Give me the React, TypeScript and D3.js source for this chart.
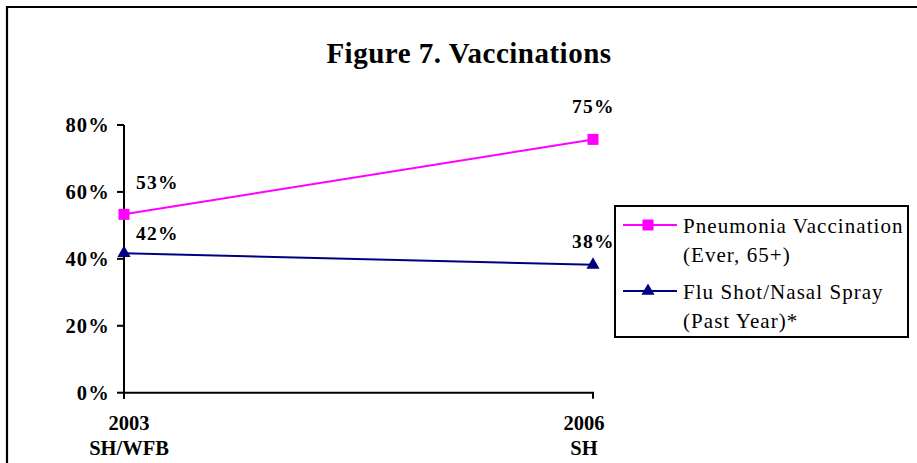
import React from "react";
import * as d3 from "d3";

const categories = ["2003", "2006"];
const categorySubLabels = ["SH/WFB", "SH"];
const pneumonia = [53.3, 75.7];
const pneumoniaLabels = ["53%", "75%"];
const flu = [41.7, 38.2];
const fluLabels = ["42%", "38%"];
const yTicks = [0, 20, 40, 60, 80];
const seriesNames = [
  ["Pneumonia Vaccination", "(Ever, 65+)"],
  ["Flu Shot/Nasal Spray", "(Past Year)*"],
];
const title = "Figure 7. Vaccinations";

const W = 917;
const H = 463;
const FONT = "'Liberation Serif', 'Times New Roman', serif";
const PINK = "#FF00FF";
const NAVY = "#000080";

export default function App() {
  const x = d3.scalePoint<string>().domain(categories).range([124, 593]);
  const y = d3.scaleLinear().domain([0, 80]).range([392.7, 125]);
  const line = d3
    .line<number>()
    .x((_, i) => x(categories[i]) as number)
    .y((d) => y(d));

  const catDx = [5, -9];
  const sq = 11;
  const tri = d3.symbol().type(d3.symbolTriangle).size(75)();
  const sqPath = d3.symbol().type(d3.symbolSquare).size(sq * sq)();

  return (
    <svg
      width={W}
      height={H}
      style={{ position: "absolute", left: 0, top: 0, background: "#fff" }}
      fontFamily={FONT}
    >
      <rect x={0} y={0} width={W} height={H} fill="#fff" />
      {/* outer border */}
      <path d={`M7,${H + 5} V7 H${W + 5}`} fill="none" stroke="#000" strokeWidth={2.2} />

      <text
        x={469}
        y={63}
        textAnchor="middle"
        fontSize={29}
        fontWeight="bold"
        letterSpacing={0.5}
      >
        {title}
      </text>

      {/* y axis */}
      <line x1={124} x2={124} y1={y(80)} y2={y(0) + 6} stroke="#000" strokeWidth={2} />
      {yTicks.map((t) => (
        <g key={t}>
          <line x1={117} x2={124} y1={y(t)} y2={y(t)} stroke="#000" strokeWidth={2} />
          <text
            x={110}
            y={y(t) + 7}
            textAnchor="end"
            fontSize={20.5}
            fontWeight="bold"
            letterSpacing={1.2}
          >
            {`${t}%`}
          </text>
        </g>
      ))}

      {/* x axis */}
      <line x1={123} x2={594} y1={y(0)} y2={y(0)} stroke="#000" strokeWidth={2} />
      {categories.map((c, i) => (
        <g key={c}>
          <line
            x1={x(c) as number}
            x2={x(c) as number}
            y1={y(0)}
            y2={y(0) + 6}
            stroke="#000"
            strokeWidth={2}
          />
          <text
            x={(x(c) as number) + catDx[i]}
            y={430}
            textAnchor="middle"
            fontSize={20.5}
            fontWeight="bold"
          >
            {c}
          </text>
          <text
            x={(x(c) as number) + catDx[i]}
            y={455}
            textAnchor="middle"
            fontSize={20.5}
            fontWeight="bold"
          >
            {categorySubLabels[i]}
          </text>
        </g>
      ))}

      {/* series */}
      <path d={line(pneumonia) || ""} fill="none" stroke={PINK} strokeWidth={2} />
      <path d={line(flu) || ""} fill="none" stroke={NAVY} strokeWidth={2} />
      {pneumonia.map((v, i) => (
        <path
          key={"p" + i}
          d={sqPath || ""}
          transform={`translate(${x(categories[i])},${y(v)})`}
          fill={PINK}
        />
      ))}
      {flu.map((v, i) => (
        <path
          key={"f" + i}
          d={tri || ""}
          transform={`translate(${x(categories[i])},${y(v)})`}
          fill={NAVY}
        />
      ))}

      {/* data labels */}
      {pneumonia.map((v, i) => (
        <text
          key={"pl" + i}
          x={(x(categories[i]) as number) + (i === 0 ? 12 : -21)}
          y={y(v) - (i === 0 ? 25 : 26)}
          fontSize={19.5}
          fontWeight="bold"
          letterSpacing={1.2}
        >
          {pneumoniaLabels[i]}
        </text>
      ))}
      {flu.map((v, i) => (
        <text
          key={"fl" + i}
          x={(x(categories[i]) as number) + (i === 0 ? 12 : -21)}
          y={y(v) - (i === 0 ? 13 : 17)}
          fontSize={19.5}
          fontWeight="bold"
          letterSpacing={1.2}
        >
          {fluLabels[i]}
        </text>
      ))}

      {/* legend */}
      <rect x={615} y={206} width={293} height={131} fill="#fff" stroke="#000" strokeWidth={2} />
      {[PINK, NAVY].map((col, i) => {
        const ly = 225 + i * 66;
        return (
          <g key={col}>
            <line x1={623} x2={677} y1={ly} y2={ly} stroke={col} strokeWidth={2} />
            <path
              d={(i === 0 ? sqPath : tri) || ""}
              transform={`translate(648,${ly})`}
              fill={col}
            />
            <text x={683} y={ly + 8} fontSize={21} letterSpacing={1.05}>
              {seriesNames[i][0]}
            </text>
            <text x={683} y={ly + 37} fontSize={21} letterSpacing={1.05}>
              {seriesNames[i][1]}
            </text>
          </g>
        );
      })}
    </svg>
  );
}
